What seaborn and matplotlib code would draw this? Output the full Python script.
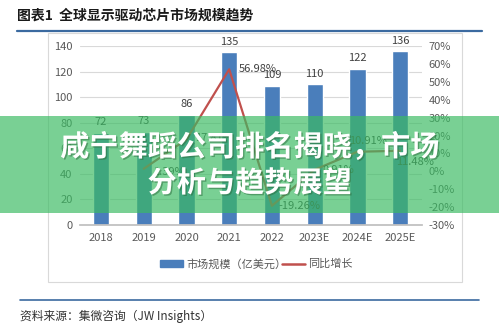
import numpy as np
import pandas as pd
import seaborn as sns
import matplotlib
matplotlib.use("Agg")
import matplotlib.pyplot as plt
from matplotlib.patches import Rectangle
from matplotlib.lines import Line2D
import matplotlib.patheffects as pe

# ---- data ----
years = ["2018", "2019", "2020", "2021", "2022", "2023E", "2024E", "2025E"]
market_size = [72, 73, 86, 135, 109, 110, 122, 136]
growth = [np.nan, 1.39, 17.81, 56.98, -19.26, 0.91, 10.91, 11.48]
left_ticks = [0, 20, 40, 60, 80, 100, 120, 140]
right_ticks = [-30, -20, -10, 0, 10, 20, 30, 40, 50, 60, 70]

title = "图表1  全球显示驱动芯片市场规模趋势"
source = "资料来源：集微咨询（JW Insights）"
banner = "咸宁舞蹈公司排名揭晓，市场\n分析与趋势展望"
bar_label = "市场规模（亿美元）"
line_label = "同比增长"

sns.set_theme(style="white")
plt.rcParams["font.family"] = ["Noto Sans CJK SC", "DejaVu Sans"]
plt.rcParams["axes.unicode_minus"] = False

W, H = 499, 331
fig = plt.figure(figsize=(W / 100, H / 100), dpi=100)
fig.patch.set_facecolor("white")

def fx(px):
    return px / W

def fy(py):
    return 1 - py / H

# chart frame
fig.add_artist(Rectangle((fx(48), fy(282)), fx(462) - fx(48), fy(33) - fy(282),
                         transform=fig.transFigure, fill=False, edgecolor="#d9d9d9", lw=0.8))

# header / footer
fig.text(fx(17), fy(16), title, fontsize=10, fontweight="bold", color="#1a1a1a", va="center", ha="left")
fig.add_artist(Line2D([fx(17), fx(482)], [fy(31), fy(31)], transform=fig.transFigure, color="#3b6aa0", lw=1.6))
fig.add_artist(Line2D([fx(20), fx(479)], [fy(300), fy(300)], transform=fig.transFigure, color="#3b6aa0", lw=1.2))
fig.text(fx(20), fy(316), source, fontsize=8.5, color="#333333", va="center", ha="left")

# axes
ax = fig.add_axes([fx(79.6), fy(225), fx(421.5) - fx(79.6), fy(46) - fy(225)])
df = pd.DataFrame({"year": years, "size": market_size, "growth": growth})

bar_color = "#4a7ebb"
line_color = "#c0504d"
sns.barplot(data=df, x="year", y="size", order=years, color=bar_color, width=0.38,
            saturation=1, ax=ax, zorder=2)
ax.set_ylim(0, 140)
ax.set_xlim(-0.5, len(years) - 0.5)
ax.set_yticks(left_ticks)
ax.yaxis.grid(True, color="#d9d9d9", lw=0.8)
ax.set_axisbelow(True)
for s in ["top", "right", "left"]:
    ax.spines[s].set_visible(False)
ax.spines["bottom"].set_color("#bfbfbf")
ax.set_xlabel("")
ax.set_ylabel("")
ax.tick_params(axis="both", length=0, labelsize=8, colors="#595959")
ax.tick_params(axis="y", pad=5)
ax.tick_params(axis="x", pad=6)
for i, v in enumerate(market_size):
    ax.annotate(str(v), (i, v), xytext=(0, 4), textcoords="offset points",
                ha="center", va="bottom", fontsize=8, color="#404040")

ax2 = ax.twinx()
sns.pointplot(data=df, x="year", y="growth", order=years, color=line_color,
              markers="", linestyles="-", ax=ax2, errorbar=None)
for l in ax2.lines:
    l.set_linewidth(1.6)
ax2.set_ylim(-30, 70)
ax2.set_xlim(-0.5, len(years) - 0.5)
ax2.set_yticks(right_ticks)
ax2.set_yticklabels([f"{t}%" for t in right_ticks])
for s in ["top", "right", "left", "bottom"]:
    ax2.spines[s].set_visible(False)
ax2.set_xlabel("")
ax2.set_ylabel("")
ax2.tick_params(axis="y", length=0, labelsize=8, colors="#595959", pad=5)
ax2.grid(False)

offsets = {1: (7, -2, "left"), 2: (6, 1, "left"), 3: (7, 0, "left"), 4: (5, 0, "left"),
           5: (6, 0, "left"), 6: (-6, 8, "left"), 7: (-3, -8, "left")}
for i, g in enumerate(growth):
    if np.isnan(g):
        continue
    dx, dy, ha = offsets[i]
    ax2.annotate(f"{g:.2f}%", (i, g), xytext=(dx, dy), textcoords="offset points",
                 ha=ha, va="center", fontsize=8, color="#404040")

# legend
fig.add_artist(Rectangle((fx(160), fy(267)), fx(183) - fx(160), fy(260) - fy(267),
                         transform=fig.transFigure, color=bar_color))
fig.text(fx(186), fy(264), bar_label, fontsize=8, color="#595959", va="center")
fig.add_artist(Line2D([fx(282), fx(305)], [fy(264), fy(264)], transform=fig.transFigure,
                      color=line_color, lw=1.8))
fig.text(fx(308), fy(264), line_label, fontsize=8, color="#595959", va="center")

# banner overlay
fig.add_artist(Rectangle((0, fy(213)), 1, fy(116) - fy(213), transform=fig.transFigure,
                         color="#3abb62", alpha=0.68, zorder=10, lw=0))
fig.text(0.5, fy(165), banner, fontsize=21, fontweight="bold", color="white",
         ha="center", va="center", linespacing=1.25, zorder=11,
         path_effects=[pe.withSimplePatchShadow(offset=(1, -1), shadow_rgbFace="#2a6b3c", alpha=0.5)])

fig.savefig("out.png", dpi=100)
